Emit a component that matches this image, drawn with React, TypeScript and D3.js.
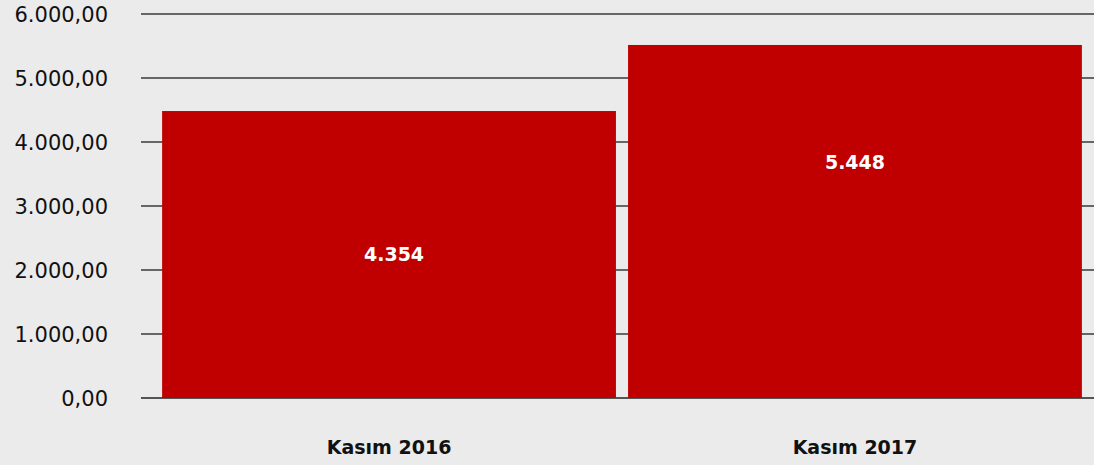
import React from 'react';
import * as d3 from 'd3';

// values
const categories = ['Kasım 2016', 'Kasım 2017'];
const barValues = [4484, 5516];
const valueLabels = ['4.354', '5.448'];
const labelAt = [2240, 3690]; // where each value label sits, in data units
const yTicks = [0, 1000, 2000, 3000, 4000, 5000, 6000];

const W = 1094;
const H = 465;

const fmt = (v: number) =>
  d3.format(',.2f')(v).replace(/,/g, '#').replace('.', ',').replace(/#/g, '.');

const App = () => {
  const x = d3.scaleBand<string>().domain(categories).range([150, 1094]).padding(0.026);
  const y = d3.scaleLinear().domain([0, 6000]).range([398, 14]);

  return (
    <div style={{ position: 'fixed', left: 0, top: 0 }}>
      <svg width={W} height={H} style={{ display: 'block' }}>
        <rect width={W} height={H} fill="#ebebeb" />
        {/* gridlines */}
        {yTicks.map((t) => (
          <line
            key={t}
            x1={141}
            x2={W}
            y1={y(t)}
            y2={y(t)}
            stroke={t === 0 ? '#222' : '#3a3a3a'}
            strokeWidth={t === 0 ? 1.5 : 1.6}
          />
        ))}
        {/* y tick labels */}
        {yTicks.map((t) => (
          <text
            key={'l' + t}
            x={108}
            y={y(t)}
            dy="0.36em"
            textAnchor="end"
            fontFamily="DejaVu Sans"
            fontSize={21}
            fill="#111"
          >
            {fmt(t)}
          </text>
        ))}
        {/* bars */}
        {categories.map((c, i) => (
          <rect
            key={c}
            x={x(c)}
            y={y(barValues[i])}
            width={x.bandwidth()}
            height={y(0) - y(barValues[i])}
            fill="#c00000"
          />
        ))}
        {/* value labels */}
        {categories.map((c, i) => (
          <text
            key={'v' + c}
            x={(x(c) as number) + x.bandwidth() / 2 + (i === 0 ? 5 : 0)}
            y={y(labelAt[i])}
            dy="0.36em"
            textAnchor="middle"
            fontFamily="DejaVu Sans"
            fontWeight="bold"
            fontSize={19}
            fill="#fff"
          >
            {valueLabels[i]}
          </text>
        ))}
        {/* category labels */}
        {categories.map((c) => (
          <text
            key={'c' + c}
            x={(x(c) as number) + x.bandwidth() / 2}
            y={447}
            dy="0.36em"
            textAnchor="middle"
            fontFamily="DejaVu Sans"
            fontWeight="bold"
            fontSize={19}
            fill="#111"
          >
            {c}
          </text>
        ))}
      </svg>
    </div>
  );
};

export default App;
